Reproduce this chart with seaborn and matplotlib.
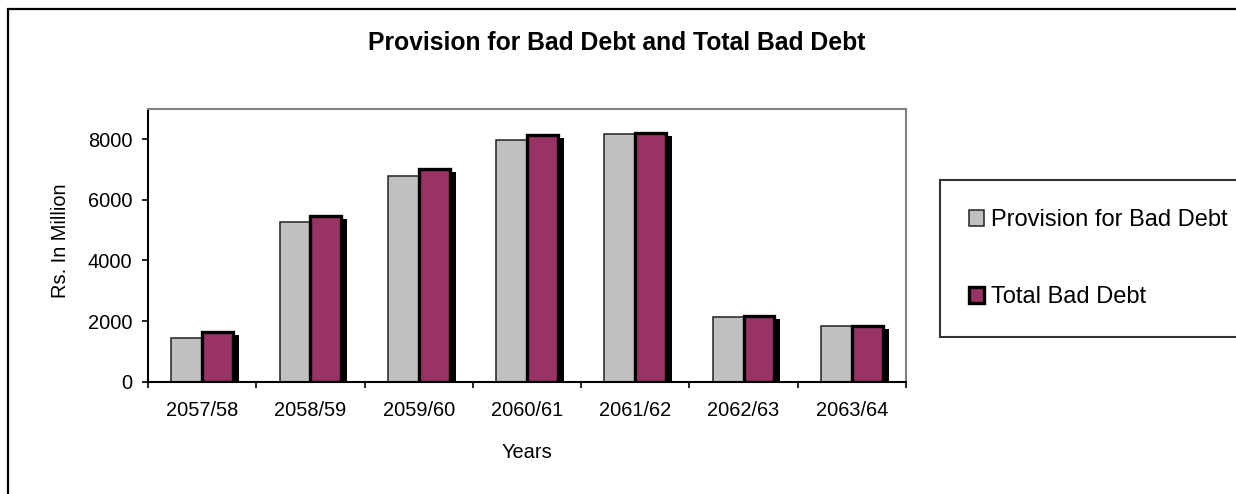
import matplotlib
matplotlib.use("Agg")
import matplotlib.pyplot as plt
import matplotlib.patheffects as pe
from matplotlib.patches import Rectangle, Patch
import seaborn as sns
import pandas as pd

years = ["2057/58", "2058/59", "2059/60", "2060/61", "2061/62", "2062/63", "2063/64"]
provision = [1455, 5256, 6790, 7990, 8188, 2149, 1841]
total_bad_debt = [1653, 5455, 7031, 8132, 8198, 2172, 1850]
series_names = ["Provision for Bad Debt", "Total Bad Debt"]
yticks = [0, 2000, 4000, 6000, 8000]

df = pd.DataFrame({
    "Years": years * 2,
    "Value": provision + total_bad_debt,
    "Series": [series_names[0]] * len(years) + [series_names[1]] * len(years),
})

sns.set_theme(style="white")
plt.rcParams["font.family"] = ["Liberation Sans", "DejaVu Sans"]
plt.rcParams.update({"text.color": "black", "axes.labelcolor": "black",
                     "xtick.color": "black", "ytick.color": "black"})

W, H = 1236, 494
fig = plt.figure(figsize=(W / 100, H / 100), dpi=100)
fig.patch.set_facecolor("white")
ax = fig.add_axes([148 / W, 1 - 381.7 / H, (906 - 148) / W, (381.7 - 109) / H])

colors = {series_names[0]: "#C0C0C0", series_names[1]: "#993366"}
sns.barplot(data=df, x="Years", y="Value", hue="Series", palette=colors,
            saturation=1, width=0.57, gap=0, ax=ax, legend=False)

gray_c, maroon_c = ax.containers[0], ax.containers[1]
for b in gray_c:
    b.set_edgecolor("#222222")
    b.set_linewidth(1.1)
for b in maroon_c:
    b.set_edgecolor("black")
    b.set_linewidth(2.4)
    b.set_path_effects([pe.SimplePatchShadow(offset=(4.3, -2.2), shadow_rgbFace="black", alpha=1.0),
                        pe.Normal()])

ax.set_ylim(0, 9000)
ax.set_xlim(-0.5, len(years) - 0.5)
ax.set_yticks(yticks)
ax.set_yticklabels([str(v) for v in yticks])
ax.set_xticks(range(len(years)))
ax.set_xticklabels(years)
ax.set_xticks([i - 0.5 for i in range(len(years) + 1)], minor=True)
ax.tick_params(axis="x", which="major", length=0, pad=14, labelsize=14.4, colors="black")
ax.tick_params(axis="x", which="minor", length=4.3, width=1.2, direction="out", color="black", bottom=True)
ax.tick_params(axis="y", which="major", length=4.3, width=1.2, direction="out", color="black",
               pad=7, labelsize=14.4, left=True, labelcolor="black")

for s in ["left", "bottom"]:
    ax.spines[s].set_color("black")
    ax.spines[s].set_linewidth(1.5)
for s in ["top", "right"]:
    ax.spines[s].set_color("#808080")
    ax.spines[s].set_linewidth(1.5)
ax.grid(False)

ax.set_xlabel("Years", fontsize=14.4, color="black")
ax.xaxis.set_label_coords(0.5, (381.7 - 453) / (381.7 - 109))
ax.xaxis.label.set_va("center")
ax.set_ylabel("Rs. In Million", fontsize=14.4, color="black")
ax.yaxis.set_label_coords((60 - 148) / (906 - 148), (381.7 - 240.5) / (381.7 - 109))
ax.yaxis.label.set_va("center")

fig.text(368 / W, 1 - 42.5 / H, "Provision for Bad Debt and Total Bad Debt",
         ha="left", va="center", fontsize=17.8, fontweight="bold", color="black")

handles = [
    Patch(facecolor=colors[series_names[0]], edgecolor="#222222", linewidth=1.1),
    Patch(facecolor=colors[series_names[1]], edgecolor="black", linewidth=2.4),
]
leg = fig.legend(handles, series_names, loc="lower left",
                 bbox_to_anchor=(940 / W, 1 - 337 / H, 400 / W, (337 - 178) / H),
                 mode="expand", borderaxespad=0, fontsize=17, frameon=True,
                 fancybox=False, handlelength=0.64, handleheight=0.64,
                 handletextpad=0.3, labelspacing=2.33, borderpad=1.22, labelcolor="black")
leg.get_frame().set_edgecolor("black")
leg.get_frame().set_linewidth(1.5)

fig.patches.append(Rectangle((8 / W, -0.05), 1.1, 1 + 0.05 - 9 / H, transform=fig.transFigure,
                             fill=False, edgecolor="black", linewidth=1.6, zorder=10))

fig.savefig("out.png", dpi=100)
